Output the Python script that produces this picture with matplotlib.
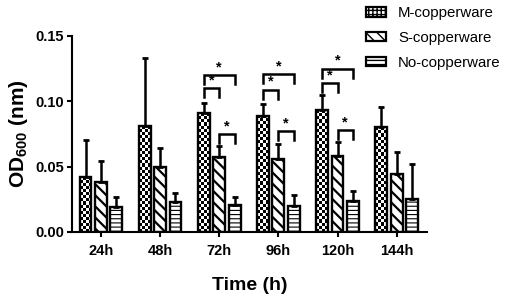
import numpy as np
import matplotlib
matplotlib.use("Agg")
import matplotlib.pyplot as plt
from matplotlib.patches import Patch

plt.rcParams['font.family'] = ['Liberation Sans', 'DejaVu Sans']
plt.rcParams['mathtext.fontset'] = 'custom'
plt.rcParams['mathtext.rm'] = 'Liberation Sans:bold'
plt.rcParams['mathtext.bf'] = 'Liberation Sans:bold'

times = ['24h', '48h', '72h', '96h', '120h', '144h']
series = ['M-copperware', 'S-copperware', 'No-copperware']

m_mean = [0.042, 0.081, 0.091, 0.089, 0.093, 0.080]
m_err = [0.028, 0.052, 0.008, 0.009, 0.012, 0.016]
s_mean = [0.038, 0.050, 0.057, 0.056, 0.058, 0.044]
s_err = [0.016, 0.014, 0.009, 0.011, 0.011, 0.017]
n_mean = [0.019, 0.023, 0.021, 0.020, 0.024, 0.025]
n_err = [0.008, 0.007, 0.006, 0.008, 0.007, 0.027]

# (time index, bar a, bar b, bracket height)
sig = [(2, 0, 1, 0.110), (2, 0, 2, 0.120), (2, 1, 2, 0.075),
       (3, 0, 1, 0.109), (3, 0, 2, 0.121), (3, 1, 2, 0.077),
       (4, 0, 1, 0.114), (4, 0, 2, 0.125), (4, 1, 2, 0.078)]

fig = plt.figure(figsize=(5.1, 2.97), dpi=100)
ax = fig.add_axes([0.141, 0.219, 0.696, 0.660])

x = np.arange(len(times))
w = 0.2
step = 0.26
offsets = [-step, 0, step]
means = [m_mean, s_mean, n_mean]
errs = [m_err, s_err, n_err]
hatches = [None, '\\\\\\', '----']

for i in range(3):
    xs = x + offsets[i]
    with plt.rc_context({'hatch.linewidth': 1.6 if i == 1 else 0.8,
                         'hatch.color': 'black' if i == 1 else '#555555'}):
        bars = ax.bar(xs, means[i], w, facecolor='white' if i else 'none',
                      edgecolor='black', linewidth=1.7, hatch=hatches[i], zorder=2)
    if i == 0:
        # checkerboard fill
        for b in bars:
            h = b.get_height()
            ny = max(1, int(round(h / 0.0024)))
            board = np.add.outer(np.arange(ny), np.arange(4)) % 2
            ax.imshow(board, cmap='gray', vmin=0, vmax=1, origin='lower',
                      extent=[b.get_x(), b.get_x() + b.get_width(), 0, h],
                      aspect='auto', interpolation='nearest', zorder=1.5)
    ax.errorbar(xs, means[i], yerr=[np.zeros(len(times)), errs[i]], fmt='none',
                ecolor='black', elinewidth=1.8, capsize=2.5, capthick=2, zorder=3)

for g, a, b, hgt in sig:
    xa = x[g] + offsets[a]
    xb = x[g] + offsets[b]
    ax.plot([xa, xa, xb, xb], [hgt - 0.007, hgt, hgt, hgt - 0.007],
            color='black', lw=1.8, zorder=3, solid_joinstyle='miter')
    ax.text((xa + xb) / 2, hgt + 0.0005, '*', ha='center', va='bottom',
            fontsize=10.5, fontweight='bold')

ax.set_xlim(-0.49, 5.51)
ax.set_ylim(0, 0.15)
ax.set_yticks([0, 0.05, 0.10, 0.15])
ax.set_yticklabels(['0.00', '0.05', '0.10', '0.15'], fontsize=10.5, fontweight='bold')
ax.set_xticks(x)
ax.set_xticklabels(times, fontsize=10.5, fontweight='bold')
ax.tick_params(direction='out', length=3.5, width=1.5, pad=2)
ax.tick_params(axis='x', pad=5)
for s in ['top', 'right']:
    ax.spines[s].set_visible(False)
for s in ['left', 'bottom']:
    ax.spines[s].set_linewidth(1.5)

ax.set_xlabel('Time (h)', fontsize=14, fontweight='bold', labelpad=14)
ax.set_ylabel('OD$_{600}$ (nm)', fontsize=15, fontweight='bold', labelpad=4)

handles = [Patch(facecolor='white', edgecolor='black', hatch='++++', linewidth=1.6),
           Patch(facecolor='white', edgecolor='black', hatch='\\\\\\', linewidth=1.6),
           Patch(facecolor='white', edgecolor='black', hatch='----', linewidth=1.6)]
fig.legend(handles, series, loc='upper left', bbox_to_anchor=(0.692, 1.025),
           frameon=False, fontsize=10.8, handlelength=1.3, handleheight=0.6,
           labelspacing=0.72, handletextpad=0.8)

fig.savefig('out.png', dpi=100)
